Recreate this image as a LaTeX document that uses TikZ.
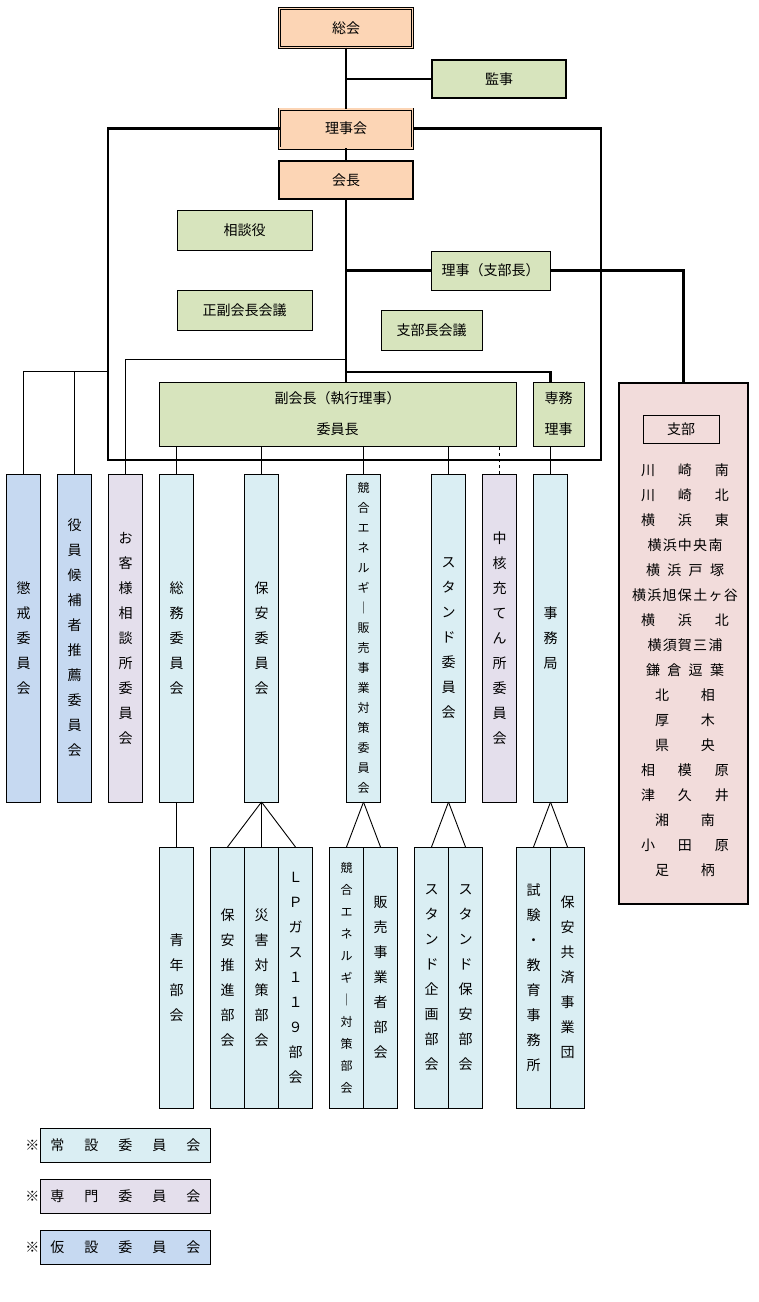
\documentclass[tikz,border=0pt]{standalone}
\usepackage{fontspec}
\setmainfont{Noto Sans CJK JP}
\usepackage{tikz}
\usetikzlibrary{positioning}
\definecolor{orgPeach}{HTML}{FCD5B5}
\definecolor{orgGreen}{HTML}{D7E4BD}
\definecolor{orgAqua}{HTML}{DAEEF3}
\definecolor{orgLilac}{HTML}{E4DFEC}
\definecolor{orgBlue}{HTML}{C6D9F1}
\definecolor{orgRose}{HTML}{F2DCDB}
\newcommand{\spreadrow}[2]{\makebox[#1pt][s]{#2}}

\begin{document}
\begin{tikzpicture}[
  x=1pt,y=-1pt,
  font=\fontsize{14}{25}\selectfont,
  every node/.style={align=center,inner sep=0pt,outer sep=0pt},
  peachbox/.style ={rectangle,draw,line width=0.75pt,double=orgPeach,double distance=1.5pt,fill=orgPeach,minimum width=133pt,minimum height=39pt},
  headbox/.style ={rectangle,draw,line width=2.2pt,fill=orgPeach,minimum width=134pt,minimum height=38pt},
  greenbox/.style ={rectangle,draw,line width=0.9pt,fill=orgGreen,minimum height=40pt},
  regcomm/.style ={rectangle,draw,line width=0.9pt,fill=orgAqua,minimum width=34pt,minimum height=328pt},
  expcomm/.style ={regcomm,fill=orgLilac},
  tmpcomm/.style ={regcomm,fill=orgBlue},
  subcomm/.style ={regcomm,minimum height=261pt},
  legendbox/.style={rectangle,draw,line width=0.9pt,minimum width=170pt,minimum height=34pt},
  link/.style ={draw,line width=2.2pt},
  thinlink/.style ={draw,line width=0.9pt}
]
\useasboundingbox (0,0) rectangle (759,1302);

% general meeting, auditor, board, president
\node[peachbox] (sokai) at (346,28) {総会};
\node[greenbox,line width=2.2pt,minimum width=134pt,minimum height=38pt] (kanji) at (499,79) {監事};
\node[peachbox] (rijikai) at (346,128.5) {理事会};
\node[headbox] (kaicho) at (346,180) {会長};

% inside the board frame
\node[greenbox,minimum width=135pt] (sodan) at (244.5,230) {相談役};
\node[greenbox,minimum width=135pt,below=40pt of sodan] (seifuku) {正副会長会議};
\node[greenbox,minimum width=119pt,minimum height=39pt] (rijishibu) at (490.5,270.5) {理事（支部長）};
\node[greenbox,minimum width=101pt] (shibukaigi) at (431.5,330) {支部長会議};
\node[greenbox,minimum width=357pt,minimum height=64pt,font=\fontsize{14}{31}\selectfont] (fuku) at (337.5,414) {副会長（執行理事）\\委員長};
\node[greenbox,minimum width=51pt,minimum height=64pt,font=\fontsize{14}{31}\selectfont] (senmu) at (558.5,414) {専務\\理事};

% branches
\node[rectangle,draw,line width=2.2pt,fill=orgRose,minimum width=129pt,minimum height=521pt] (shibu) at (683.5,643.5) {};
\node[rectangle,draw,line width=0.9pt,minimum width=76pt,minimum height=28pt] (shibutitle) at (681,429) {支部};
\node (shibulist) at (685,670) {%
  \spreadrow{88}{川\hfil 崎\hfil 南}\\
  \spreadrow{88}{川\hfil 崎\hfil 北}\\
  \spreadrow{88}{横\hfil 浜\hfil 東}\\
  \spreadrow{75}{横\hfil 浜\hfil 中\hfil 央\hfil 南}\\
  \spreadrow{78}{横\hfil 浜\hfil 戸\hfil 塚}\\
  \spreadrow{106}{横\hfil 浜\hfil 旭\hfil 保\hfil 土\hfil ヶ\hfil 谷}\\
  \spreadrow{88}{横\hfil 浜\hfil 北}\\
  \spreadrow{75}{横\hfil 須\hfil 賀\hfil 三\hfil 浦}\\
  \spreadrow{78}{鎌\hfil 倉\hfil 逗\hfil 葉}\\
  \spreadrow{60}{北\hfil 相}\\
  \spreadrow{60}{厚\hfil 木}\\
  \spreadrow{60}{県\hfil 央}\\
  \spreadrow{88}{相\hfil 模\hfil 原}\\
  \spreadrow{88}{津\hfil 久\hfil 井}\\
  \spreadrow{60}{湘\hfil 南}\\
  \spreadrow{88}{小\hfil 田\hfil 原}\\
  \spreadrow{60}{足\hfil 柄}};

% committees
\node[tmpcomm] (chokai) at (23.5,638) {懲\\戒\\委\\員\\会};
\node[tmpcomm,right=17pt of chokai] (yakuin) {役\\員\\候\\補\\者\\推\\薦\\委\\員\\会};
\node[expcomm,right=17pt of yakuin] (okyaku) {お\\客\\様\\相\\談\\所\\委\\員\\会};
\node[regcomm,right=17pt of okyaku] (somu) {総\\務\\委\\員\\会};
\node[regcomm,right=51pt of somu] (hoan) {保\\安\\委\\員\\会};
\node[regcomm,right=68pt of hoan,font=\fontsize{12}{20}\selectfont] (kyogo) {競\\合\\エ\\ネ\\ル\\ギ\\｜\\販\\売\\事\\業\\対\\策\\委\\員\\会};
\node[regcomm,right=51pt of kyogo] (stand) {ス\\タ\\ン\\ド\\委\\員\\会};
\node[expcomm,right=17pt of stand] (chukaku) {中\\核\\充\\て\\ん\\所\\委\\員\\会};
\node[regcomm,right=17pt of chukaku] (jimu) {事\\務\\局};

% sub-committees
\node[subcomm,below=45pt of somu] (seinen) {青\\年\\部\\会};
\node[subcomm,below=45pt of hoan] (saigai) {災\\害\\対\\策\\部\\会};
\node[subcomm,left=0pt of saigai] (suishin) {保\\安\\推\\進\\部\\会};
\node[subcomm,right=0pt of saigai] (lpgas) {Ｌ\\Ｐ\\ガ\\ス\\１\\１\\９\\部\\会};
\node[subcomm,below=45pt of kyogo,xshift=-17pt,font=\fontsize{12}{22}\selectfont] (kyotai) {競\\合\\エ\\ネ\\ル\\ギ\\｜\\対\\策\\部\\会};
\node[subcomm,right=0pt of kyotai] (hanbai) {販\\売\\事\\業\\者\\部\\会};
\node[subcomm,below=45pt of stand,xshift=-17pt] (kikaku) {ス\\タ\\ン\\ド\\企\\画\\部\\会};
\node[subcomm,right=0pt of kikaku] (standhoan) {ス\\タ\\ン\\ド\\保\\安\\部\\会};
\node[subcomm,below=45pt of jimu,xshift=-17pt] (shiken) {試\\験\\・\\教\\育\\事\\務\\所};
\node[subcomm,right=0pt of shiken] (kyosai) {保\\安\\共\\済\\事\\業\\団};

% legend
\node[legendbox,fill=orgAqua] (legreg) at (125.3,1145.3) {\spreadrow{150}{常\hfill 設\hfill 委\hfill 員\hfill 会}};
\node[legendbox,fill=orgLilac,below=17pt of legreg] (legexp) {\spreadrow{150}{専\hfill 門\hfill 委\hfill 員\hfill 会}};
\node[legendbox,fill=orgBlue,below=17pt of legexp] (legtmp) {\spreadrow{150}{仮\hfill 設\hfill 委\hfill 員\hfill 会}};
\node[left=1pt of legreg] (markreg) {※};
\node[left=1pt of legexp] (markexp) {※};
\node[left=1pt of legtmp] (marktmp) {※};

% trunk lines
\draw[link] (sokai) -- (rijikai);
\draw[link] (kanji.west) -- (kanji.west -| sokai.south);
\draw[link] (rijikai) -- (kaicho);
\draw[link] (kaicho.south) -- (kaicho.south |- fuku.north);
\draw[link] (rijishibu.west -| kaicho.south) -- (rijishibu.west);
\draw[link] (rijishibu.east) -| (shibu.north);
\coordinate (senmujoin) at (346,372);
\draw[link] (senmujoin) -| (jimu.north |- senmu.north);

% board frame
\coordinate (frameSW) at (108,460);
\coordinate (frameSE) at (601,460);
\draw[link] (rijikai.west) -| (frameSW) -- (frameSE) |- (rijikai.east);

% to committees
\coordinate (leftjoin) at (108,371);
\draw[thinlink] (leftjoin) -| (chokai.north);
\draw[thinlink] (yakuin.north) -- (yakuin.north |- leftjoin);
\coordinate (okyakujoin) at (346,359);
\draw[thinlink] (okyakujoin) -| (okyaku.north);
\draw[thinlink] (somu.north) -- (somu.north |- fuku.south);
\draw[thinlink] (hoan.north) -- (hoan.north |- fuku.south);
\draw[thinlink] (kyogo.north) -- (kyogo.north |- fuku.south);
\draw[thinlink] (stand.north) -- (stand.north |- fuku.south);
\draw[thinlink,dashed] (chukaku.north) -- (chukaku.north |- fuku.south);
\draw[thinlink] (jimu.north) -- (jimu.north |- senmu.south);

% to sub-committees
\draw[thinlink] (somu) -- (seinen);
\draw[thinlink] (hoan.south) -- (suishin.north);
\draw[thinlink] (hoan.south) -- (saigai.north);
\draw[thinlink] (hoan.south) -- (lpgas.north);
\draw[thinlink] (kyogo.south) -- (kyotai.north);
\draw[thinlink] (kyogo.south) -- (hanbai.north);
\draw[thinlink] (stand.south) -- (kikaku.north);
\draw[thinlink] (stand.south) -- (standhoan.north);
\draw[thinlink] (jimu.south) -- (shiken.north);
\draw[thinlink] (jimu.south) -- (kyosai.north);
\end{tikzpicture}
\end{document}
